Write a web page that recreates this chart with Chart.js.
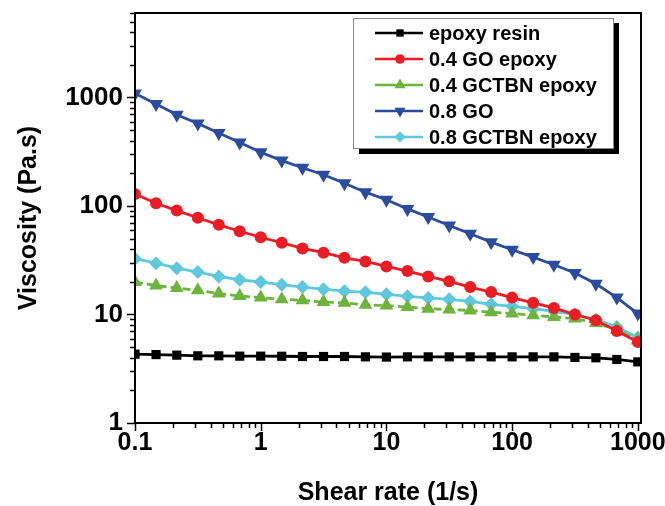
<!DOCTYPE html>
<html>
<head>
<meta charset="utf-8">
<script src="https://cdn.jsdelivr.net/npm/chart.js@4.4.1/dist/chart.umd.min.js"></script>
<style>
  html, body { margin: 0; padding: 0; background: #fff; }
  #wrap { width: 665px; height: 506px; }
</style>
</head>
<body>
<div id="wrap"><canvas id="c" width="665" height="506"></canvas></div>
<script>
// ---- data ----
const shearRate = [0.1, 0.147, 0.215, 0.316, 0.464, 0.681, 1, 1.47, 2.15, 3.16, 4.64, 6.81,
  10, 14.7, 21.5, 31.6, 46.4, 68.1, 100, 147, 215, 316, 464, 681, 1000];

const seriesNames = ['epoxy resin', '0.4 GO epoxy', '0.4 GCTBN epoxy', '0.8 GO', '0.8 GCTBN epoxy'];

const epoxyResin = [4.31, 4.27, 4.22, 4.16, 4.16, 4.13, 4.13, 4.12, 4.10, 4.10, 4.10, 4.07,
  4.05, 4.07, 4.07, 4.07, 4.07, 4.07, 4.07, 4.07, 4.07, 4.02, 3.99, 3.85, 3.66];
const go04 = [129, 106, 90.7, 77.8, 67, 58.5, 51.5, 45.8, 40.6, 37.1, 33.3, 30.8,
  27.7, 25.1, 22.4, 20.2, 17.9, 16.1, 14.3, 12.8, 11.5, 10.0, 8.85, 7.05, 5.59];
const gctbn04 = [19.9, 18.5, 17.5, 16.7, 15.6, 14.8, 14.3, 13.8, 13.5, 13.0, 12.8, 12.3,
  12.1, 11.7, 11.3, 11.1, 10.9, 10.5, 10.2, 9.84, 9.49, 9.17, 8.36, 7.26, 5.79];
const go08 = [1086, 868, 692, 576, 470, 385, 312, 262, 225, 194, 162, 134,
  114, 94, 79, 66, 55.4, 46.4, 39.5, 33.8, 28.7, 24.1, 19.2, 14.3, 10.2];
const gctbn08 = [32.7, 29.7, 26.7, 24.6, 22.4, 20.9, 19.9, 18.8, 17.9, 17.1, 16.4, 16.0,
  15.4, 14.7, 14.2, 13.8, 13.2, 12.4, 11.9, 11.3, 10.7, 9.98, 8.98, 7.68, 6.13];

const xTickLabels = ['0.1', '1', '10', '100', '1000'];
const yTickLabels = ['1', '10', '100', '1000'];
const xTitle = 'Shear rate (1/s)';
const yTitle = 'Viscosity (Pa.s)';

// ---- styles ----
const FONT = '"Liberation Sans", Arial, sans-serif';
const styles = [
  { color: '#000000', point: 'rect', radius: 6.5, rot: 0, dash: [] },
  { color: '#ec1c24', point: 'circle', radius: 6, rot: 0, dash: [] },
  { color: '#6cb43c', point: 'triangle', radius: 8, rot: 0, dash: [8, 4] },
  { color: '#2b4c9e', point: 'triangle', radius: 8, rot: 180, dash: [] },
  { color: '#5ec8dc', point: 'rectRot', radius: 7, rot: 0, dash: [] }
];
const seriesValues = [epoxyResin, go04, gctbn04, go08, gctbn08];

const datasets = seriesValues.map((vals, i) => ({
  label: seriesNames[i],
  data: vals.map((v, k) => ({ x: shearRate[k], y: v })),
  borderColor: styles[i].color,
  backgroundColor: styles[i].color,
  borderWidth: 2.8,
  borderDash: styles[i].dash,
  pointStyle: styles[i].point,
  pointRadius: styles[i].radius,
  pointRotation: styles[i].rot,
  pointBorderWidth: 0,
  pointHoverRadius: styles[i].radius,
  tension: 0
}));

function isPow10(v) {
  const l = Math.log10(v);
  return Math.abs(l - Math.round(l)) < 1e-6;
}
function logTicks(minExp, maxExp, maxVal) {
  const t = [];
  for (let e = minExp; e <= maxExp; e++) {
    for (let m = 1; m <= 9; m++) {
      const v = +(m * Math.pow(10, e)).toPrecision(6);
      if (v <= maxVal) t.push({ value: v });
    }
  }
  return t;
}

const frameAndLegend = {
  id: 'frameAndLegend',
  afterDraw(chart) {
    const { ctx, chartArea: a, scales } = chart;
    const x = scales.x, y = scales.y;
    ctx.save();
    // frame
    ctx.strokeStyle = '#000';
    ctx.lineWidth = 2;
    ctx.strokeRect(a.left, a.top, a.right - a.left, a.bottom - a.top);
    // tick marks (outward)
    ctx.lineWidth = 1.5;
    x.ticks.forEach(t => {
      const px = Math.round(x.getPixelForValue(t.value)) + 0.5;
      const len = isPow10(t.value) ? 8 : 5;
      ctx.beginPath(); ctx.moveTo(px, a.bottom); ctx.lineTo(px, a.bottom + len); ctx.stroke();
    });
    y.ticks.forEach(t => {
      const py = Math.round(y.getPixelForValue(t.value)) + 0.5;
      const len = isPow10(t.value) ? 8 : 5;
      ctx.beginPath(); ctx.moveTo(a.left, py); ctx.lineTo(a.left - len, py); ctx.stroke();
    });
    // legend box with shadow
    const L = 353, T = 18, R = 613, B = 148;
    ctx.fillStyle = '#000';
    ctx.fillRect(R, T + 5, 6, B - T + 1);
    ctx.fillRect(L + 6, B, R - L, 6);
    ctx.fillStyle = '#fff';
    ctx.fillRect(L, T, R - L, B - T);
    ctx.strokeStyle = '#888';
    ctx.lineWidth = 1;
    ctx.strokeRect(L + 0.5, T + 0.5, R - L, B - T);
    ctx.font = 'bold 20px ' + FONT;
    ctx.textBaseline = 'middle';
    ctx.textAlign = 'left';
    chart.data.datasets.forEach((ds, i) => {
      const cy = 33 + i * 26;
      ctx.strokeStyle = ds.borderColor;
      ctx.lineWidth = 2.5;
      ctx.setLineDash([]);
      ctx.beginPath(); ctx.moveTo(375, cy); ctx.lineTo(423, cy); ctx.stroke();
      ctx.fillStyle = ds.backgroundColor;
      Chart.helpers.drawPoint(ctx, {
        pointStyle: ds.pointStyle, radius: ds.pointRadius * 0.8,
        rotation: ds.pointRotation, borderWidth: 0
      }, 400, cy);
      ctx.fillStyle = '#000';
      ctx.fillText(ds.label, 429, cy + 1);
    });
    ctx.restore();
  }
};

new Chart(document.getElementById('c'), {
  type: 'line',
  data: { datasets },
  plugins: [frameAndLegend],
  options: {
    responsive: false,
    animation: false,
    events: [],
    layout: { padding: { top: 13, right: 24, left: 0, bottom: 0 } },
    plugins: { legend: { display: false }, tooltip: { enabled: false } },
    scales: {
      x: {
        type: 'logarithmic',
        min: 0.1,
        max: 1060,
        afterBuildTicks(scale) { scale.ticks = logTicks(-1, 3, 1060); },
        afterFit(scale) {
          scale.height = 83;
          scale.paddingLeft = 0; scale.paddingRight = 0;
          scale.paddingTop = 0; scale.paddingBottom = 0;
        },
        grid: { display: false, drawTicks: false },
        border: { display: false },
        ticks: {
          autoSkip: false,
          maxRotation: 0,
          padding: 5,
          color: '#000',
          font: { family: FONT, size: 25, weight: 'bold' },
          callback(v) {
            if (!isPow10(v)) return '';
            const idx = Math.round(Math.log10(v)) + 1;
            return xTickLabels[idx];
          }
        },
        title: {
          display: true, text: xTitle, color: '#000',
          font: { family: FONT, size: 25, weight: 'bold', lineHeight: 1 },
          padding: { top: 0, bottom: 0 }
        }
      },
      y: {
        type: 'logarithmic',
        min: 1,
        max: 6000,
        afterBuildTicks(scale) { scale.ticks = logTicks(0, 3, 6000); },
        afterFit(scale) {
          scale.width = 135;
          scale.paddingLeft = 0; scale.paddingRight = 0;
          scale.paddingTop = 0; scale.paddingBottom = 0;
        },
        grid: { display: false, drawTicks: false },
        border: { display: false },
        ticks: {
          autoSkip: false,
          padding: 12,
          color: '#000',
          font: { family: FONT, size: 26, weight: 'bold' },
          callback(v) {
            if (!isPow10(v)) return '';
            const idx = Math.round(Math.log10(v));
            return yTickLabels[idx];
          }
        },
        title: {
          display: true, text: yTitle, color: '#000',
          font: { family: FONT, size: 25, weight: 'bold', lineHeight: 1 },
          padding: { top: 17, bottom: 0 }
        }
      }
    }
  }
});
</script>
</body>
</html>
